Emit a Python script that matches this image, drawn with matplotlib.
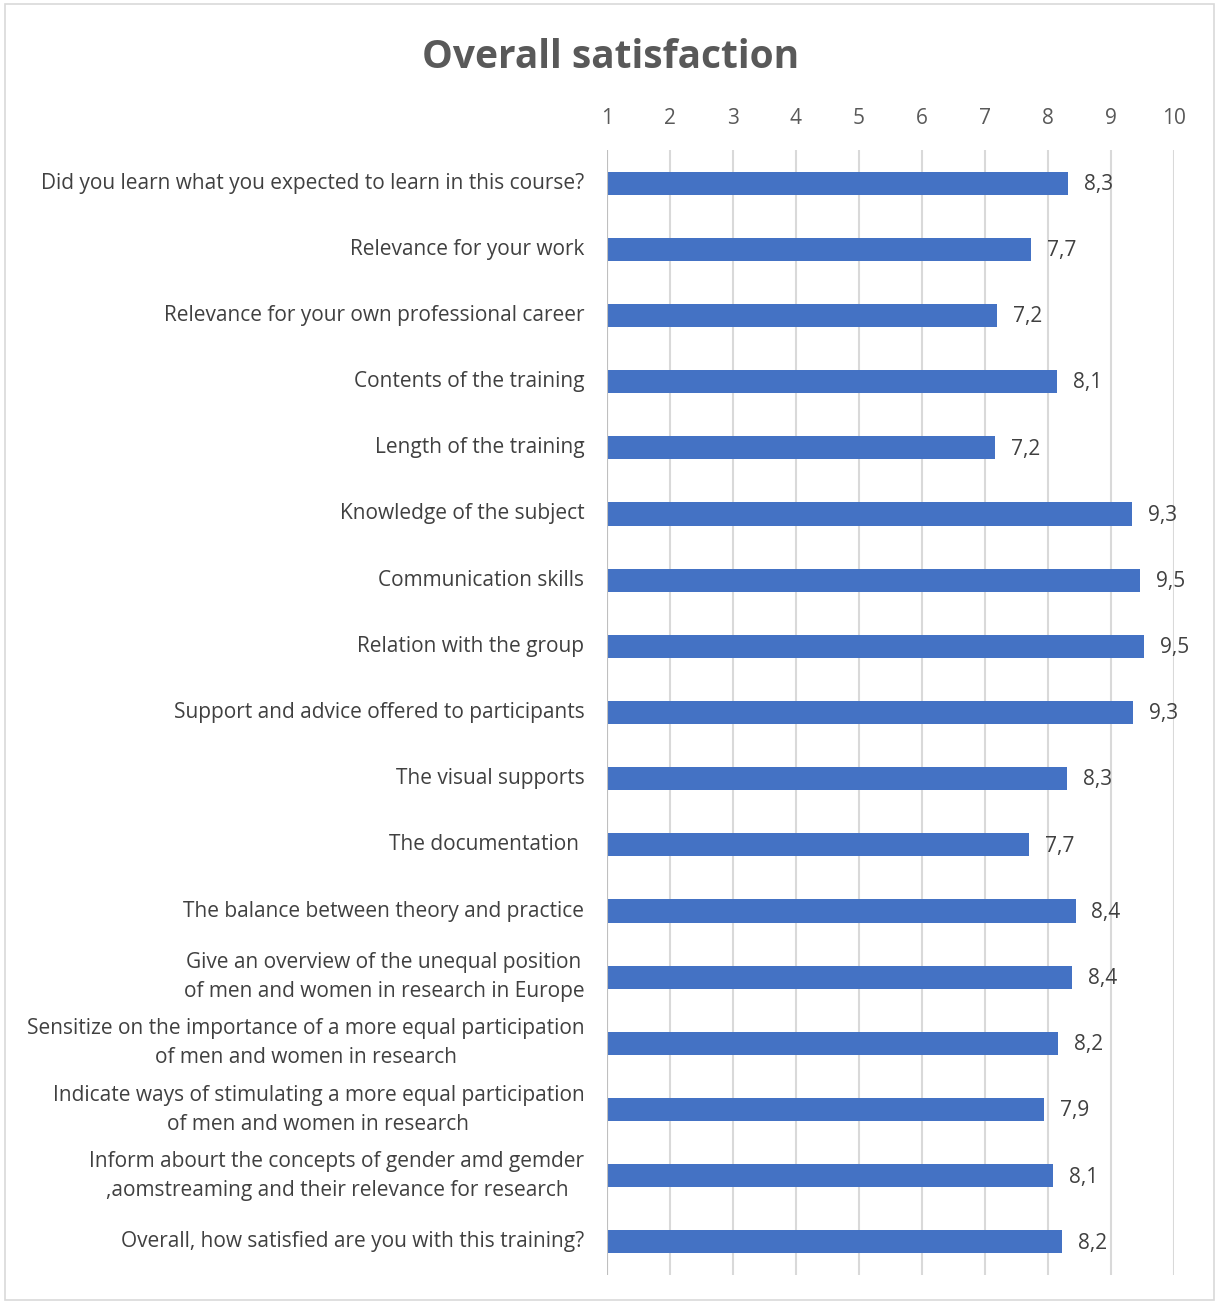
import matplotlib
matplotlib.use("Agg")
import matplotlib.pyplot as plt
from matplotlib.patches import Rectangle

plt.rcParams['font.family'] = ['Open Sans', 'DejaVu Sans']

categories = [
    "Did you learn what you expected to learn in this course?",
    "Relevance for your work",
    "Relevance for your own professional career",
    "Contents of the training",
    "Length of the training",
    "Knowledge of the subject",
    "Communication skills",
    "Relation with the group",
    "Support and advice offered to participants",
    "The visual supports",
    "The documentation ",
    "The balance between theory and practice",
    "Give an overview of the unequal position\nof men and women in research in Europe",
    "Sensitize on the importance of a more equal participation\nof men and women in research",
    "Indicate ways of stimulating a more equal participation\nof men and women in research",
    "Inform abourt the concepts of gender amd gemder\n,aomstreaming and their relevance for research",
    "Overall, how satisfied are you with this training?",
]
values = [8.32, 7.73, 7.19, 8.14, 7.16, 9.33, 9.46, 9.52, 9.35, 8.30, 7.70, 8.44, 8.38, 8.16, 7.94, 8.08, 8.22]
ticks = [1, 2, 3, 4, 5, 6, 7, 8, 9, 10]

text_color = "#595959"
bar_color = "#4472C4"
grid_color = "#D9D9D9"

fig = plt.figure(figsize=(12.16, 13.02), dpi=100)
ax = fig.add_axes([607/1216, 1-1275/1302, (1174-607)/1216, (1275-150)/1302])

y = list(range(len(categories)))
ax.barh(y, [v - 1 for v in values], left=1, height=0.35, color=bar_color, zorder=3)
ax.set_xlim(1, 10)
ax.set_ylim(len(categories) - 0.5, -0.5)
ax.set_xticks(ticks)
ax.xaxis.tick_top()
ax.tick_params(axis='x', length=0, pad=15, labelsize=15, labelcolor=text_color)
ax.set_yticks([])
for s in ax.spines.values():
    s.set_visible(False)
ax.grid(axis='x', color=grid_color, linewidth=1.5, zorder=0)
ax.axvline(1, color="#BFBFBF", linewidth=1.5, zorder=4)

for yi, v, lab in zip(y, values, categories):
    ax.text(v + 0.25, yi + 0.02, f"{v:.1f}".replace(".", ","), va='center', ha='left',
            fontsize=15, color="#404040")
    ax.text(-0.04, yi, lab, transform=ax.get_yaxis_transform(), ha='right', va='center',
            multialignment='center', fontsize=15, color="#404040", linespacing=1.5)

fig.text(0.502, 1 - 58/1302, "Overall satisfaction", ha='center', va='center',
         fontsize=28, fontweight='bold', color=text_color)

fig.patches.append(Rectangle((5/1216, 2/1302), 1209/1216, 1296/1302, transform=fig.transFigure,
                             fill=False, edgecolor="#D9D9D9", linewidth=1.2))

fig.savefig("out.png", dpi=100)
